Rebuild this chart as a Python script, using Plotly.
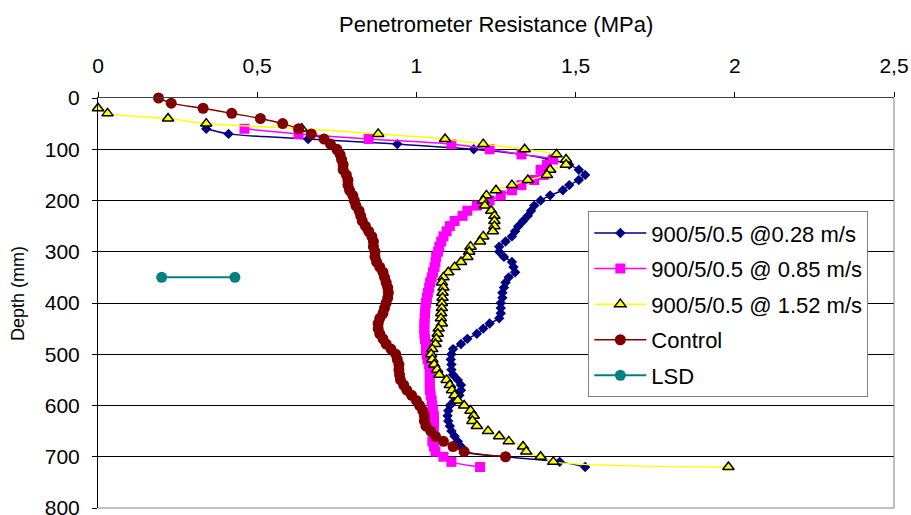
import plotly.graph_objects as go

# ---------------- data ----------------
control_depth = list(range(0, 701, 10))
control_val = [0.19, 0.23, 0.33, 0.42, 0.51, 0.58, 0.63, 0.67, 0.71, 0.73,
               0.75, 0.76, 0.765, 0.77, 0.77, 0.78, 0.785, 0.785, 0.79, 0.80,
               0.805, 0.81, 0.82, 0.825, 0.83, 0.84, 0.85, 0.86, 0.865, 0.865,
               0.87, 0.87, 0.875, 0.885, 0.895, 0.90, 0.905, 0.91, 0.912, 0.91,
               0.905, 0.90, 0.895, 0.885, 0.88, 0.88, 0.885, 0.895, 0.905, 0.92,
               0.935, 0.94, 0.945, 0.945, 0.947, 0.95, 0.96, 0.97, 0.985, 1.00,
               1.01, 1.02, 1.025, 1.025, 1.03, 1.045, 1.06, 1.085, 1.115, 1.15,
               1.28]

slow_depth = list(range(60, 721, 10))
slow_val = [0.34, 0.41, 0.66, 0.94, 1.18, 1.33, 1.42, 1.48, 1.51, 1.53,
            1.51, 1.48, 1.46, 1.42, 1.39, 1.37, 1.36, 1.35, 1.335, 1.32,
            1.31, 1.30, 1.28, 1.26, 1.26, 1.275, 1.30, 1.305, 1.31, 1.29,
            1.28, 1.275, 1.27, 1.27, 1.265, 1.265, 1.265, 1.26, 1.23, 1.21,
            1.19, 1.16, 1.14, 1.115, 1.11, 1.108, 1.11, 1.11, 1.115, 1.13,
            1.14, 1.14, 1.135, 1.12, 1.105, 1.10, 1.098, 1.10, 1.105, 1.11,
            1.12, 1.13, 1.14, 1.15, 1.28, 1.45, 1.53]

mid_depth = list(range(60, 721, 10))
mid_val = [0.46, 0.63, 0.85, 1.11, 1.23, 1.33, 1.43, 1.41, 1.39, 1.40,
           1.37, 1.33, 1.30, 1.265, 1.23, 1.19, 1.16, 1.145, 1.12, 1.105,
           1.095, 1.085, 1.078, 1.072, 1.068, 1.062, 1.06, 1.057, 1.052, 1.048,
           1.043, 1.04, 1.036, 1.033, 1.03, 1.028, 1.027, 1.026, 1.025, 1.025,
           1.025, 1.027, 1.03, 1.03, 1.032, 1.035, 1.04, 1.042, 1.042, 1.042,
           1.042, 1.042, 1.045, 1.048, 1.05, 1.052, 1.055, 1.055, 1.055, 1.054,
           1.053, 1.05, 1.055, 1.06, 1.085, 1.11, 1.20]

fast_depth = list(range(20, 721, 10))
fast_val = [0.00, 0.03, 0.22, 0.34, 0.64, 0.88, 1.09, 1.21, 1.34, 1.44,
            1.47, 1.47, 1.42, 1.41, 1.35, 1.30, 1.25, 1.22, 1.21, 1.215,
            1.235, 1.245, 1.245, 1.245, 1.24, 1.21, 1.20, 1.17, 1.166, 1.16,
            1.14, 1.12, 1.10, 1.085, 1.08, 1.085, 1.082, 1.082, 1.08, 1.08,
            1.078, 1.077, 1.08, 1.07, 1.067, 1.063, 1.06, 1.05, 1.046, 1.05,
            1.056, 1.065, 1.072, 1.095, 1.105, 1.112, 1.12, 1.13, 1.15, 1.17,
            1.18, 1.176, 1.19, 1.225, 1.26, 1.29, 1.335, 1.345, 1.39, 1.43,
            1.98]

lsd_depth = [350, 350]
lsd_val = [0.20, 0.43]

x_tickvals = [0, 0.5, 1, 1.5, 2, 2.5]
x_ticktext = ["0", "0,5", "1", "1,5", "2", "2,5"]
y_tickvals = [0, 100, 200, 300, 400, 500, 600, 700, 800]

names = ["900/5/0.5 @0.28 m/s", "900/5/0.5 @ 0.85 m/s", "900/5/0.5 @ 1.52 m/s",
         "Control", "LSD"]

FONT = "Liberation Sans, Arial, sans-serif"

fig = go.Figure()

fig.add_trace(go.Scatter(
    x=slow_val, y=slow_depth, name=names[0], mode="lines+markers", legendgroup="a",
    line=dict(color="#000080", width=1.5, shape="spline", smoothing=0.8),
    marker=dict(symbol="diamond", size=8, color="#000080"), cliponaxis=False))
fig.add_trace(go.Scatter(
    x=mid_val, y=mid_depth, name=names[1], mode="lines+markers", legendgroup="b",
    line=dict(color="#FF00FF", width=1.5, shape="spline", smoothing=0.8),
    marker=dict(symbol="square", size=10, color="#FF00FF"), cliponaxis=False))
fig.add_trace(go.Scatter(
    x=fast_val, y=fast_depth, name=names[2], mode="lines+markers", legendgroup="c",
    line=dict(color="#FFFF00", width=1.5, shape="spline", smoothing=0.8),
    marker=dict(symbol="triangle-up", size=10, color="#FFFF00",
                line=dict(color="black", width=1.5)), cliponaxis=False))
fig.add_trace(go.Scatter(
    x=control_val, y=control_depth, name=names[3], mode="lines+markers", legendgroup="d",
    line=dict(color="#800000", width=1.5, shape="spline", smoothing=0.8),
    marker=dict(symbol="circle", size=11, color="#800000"), cliponaxis=False))
fig.add_trace(go.Scatter(
    x=lsd_val, y=lsd_depth, name=names[4], mode="lines+markers", legendgroup="e",
    line=dict(color="#008080", width=2),
    marker=dict(symbol="circle", size=11, color="#008080"), cliponaxis=False))

fig.update_layout(
    width=911, height=515,
    margin=dict(l=98, r=17, t=98, b=7, autoexpand=False),
    paper_bgcolor="white", plot_bgcolor="white",
    font=dict(family=FONT, size=21, color="black"),
    showlegend=True,
    legend=dict(x=0.616, y=0.724, xanchor="left", yanchor="top",
                bordercolor="#808080", borderwidth=1, bgcolor="white",
                font=dict(family=FONT, size=22, color="black"),
                tracegroupgap=4, itemwidth=52, traceorder="grouped"),
    xaxis=dict(side="top", range=[0, 2.5], tickvals=x_tickvals, ticktext=x_ticktext,
               showgrid=False, zeroline=False, showline=True, linecolor="#404040",
               linewidth=1, ticks="outside", ticklen=5, tickcolor="black",
               ticklabelstandoff=11, tickfont=dict(size=21), automargin=False),
    yaxis=dict(range=[800, 0], tickvals=y_tickvals, showgrid=True,
               gridcolor="black", gridwidth=1, zeroline=False, showline=True,
               linecolor="black", linewidth=1, ticks="outside", ticklen=5,
               tickcolor="black", ticklabelstandoff=8, tickfont=dict(size=21),
               ticklabeloverflow="allow", automargin=False),
    annotations=[
        dict(text="Penetrometer Resistance (MPa)", xref="paper", yref="paper",
             x=0.5, y=1.0, yshift=74, showarrow=False, xanchor="center",
             yanchor="middle", font=dict(size=22)),
        dict(text="Depth (mm)", xref="paper", yref="paper", x=0, xshift=-80,
             y=0.522, showarrow=False, textangle=-90, xanchor="center",
             yanchor="middle", font=dict(size=18)),
    ],
    shapes=[
        dict(type="line", xref="paper", yref="paper", x0=1, x1=1, y0=0, y1=1,
             line=dict(color="#808080", width=1), layer="above"),
        dict(type="line", xref="paper", yref="paper", x0=0, x1=1, y0=0, y1=0,
             line=dict(color="#808080", width=1), layer="above"),
    ],
)

fig.write_html("out.html")
